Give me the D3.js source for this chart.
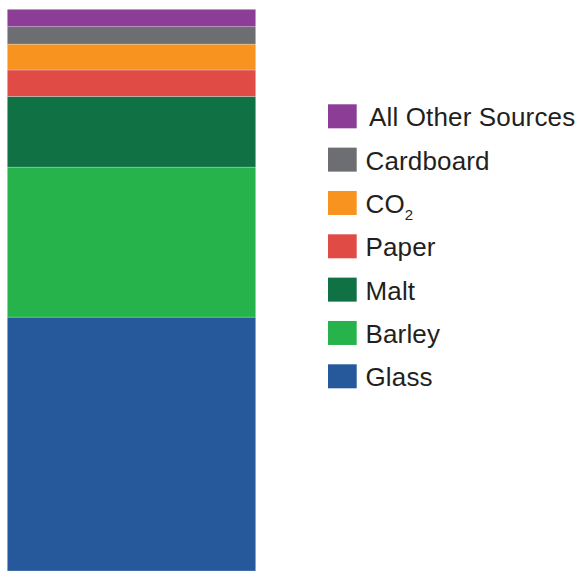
<!DOCTYPE html>
<html>
<head>
<meta charset="utf-8">
<script src="https://cdn.jsdelivr.net/npm/d3@7"></script>
<style>
  html, body { margin: 0; padding: 0; background: #fff; }
  svg { display: block; }
</style>
</head>
<body>
<svg id="chart" width="579" height="571"></svg>
<script>
// Data (percent share, bottom to top)
const categories = ["Glass", "Barley", "Malt", "Paper", "CO2", "Cardboard", "All Other Sources"];
const values = [45.2, 26.7, 12.6, 4.7, 4.6, 3.1, 3.1];
const colors = ["#25599C", "#27B34B", "#107145", "#E04B46", "#F7931E", "#6D6E71", "#8C3E97"];

const svg = d3.select("#chart");

const row = {};
categories.forEach((c, i) => row[c] = values[i]);
const stack = d3.stack().keys(categories);
const series = stack([row]);

const total = d3.sum(values);
const y = d3.scaleLinear().domain([0, total]).range([571, 9.3]);
const x = d3.scaleBand().domain(["bar"]).range([7.3, 255.7]).padding(0);

svg.append("g").selectAll("rect")
  .data(series)
  .join("rect")
  .attr("x", x("bar"))
  .attr("width", x.bandwidth())
  .attr("y", d => y(d[0][1]))
  .attr("height", d => y(d[0][0]) - y(d[0][1]))
  .attr("fill", (d, i) => colors[i])
  .attr("stroke", "rgba(255,255,255,0.35)")
  .attr("stroke-width", 0.7);

// Legend (top to bottom reverse order)
const legendOrder = categories.slice().reverse();
const legendColors = colors.slice().reverse();
const ly = d3.scalePoint().domain(legendOrder).range([104.3, 364.3]);

const lg = svg.append("g").selectAll("g")
  .data(legendOrder)
  .join("g")
  .attr("transform", d => `translate(328, ${ly(d)})`);

lg.append("rect")
  .attr("width", 28.7)
  .attr("height", 24)
  .attr("fill", (d, i) => legendColors[i]);

const txt = lg.append("text")
  .attr("x", d => d === "All Other Sources" ? 41 : 37.5)
  .attr("y", 22)
  .attr("font-family", "Liberation Sans, Arial, sans-serif")
  .attr("font-size", 26)
  .attr("letter-spacing", 0.15)
  .attr("fill", "#231F20");

txt.each(function(d) {
  const t = d3.select(this);
  if (d === "CO2") {
    t.append("tspan").text("CO");
    t.append("tspan").text("2").attr("font-size", 15).attr("dy", 7);
  } else {
    t.text(d);
  }
});
</script>
</body>
</html>
